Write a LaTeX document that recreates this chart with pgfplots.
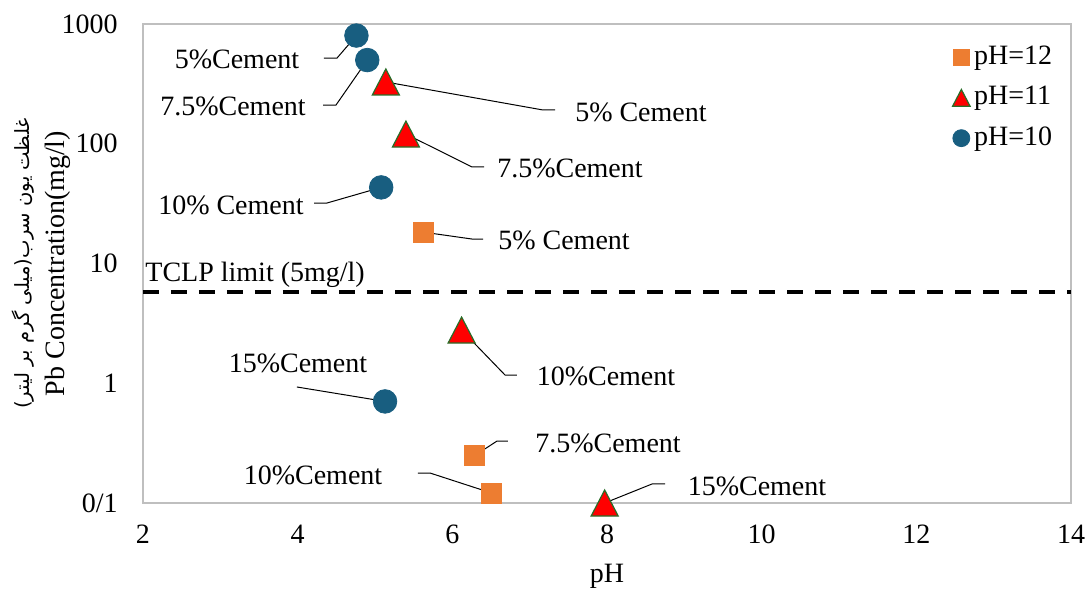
\documentclass[border=0pt]{standalone}
\usepackage{pgfplots}
\pgfplotsset{compat=1.18}
\usepackage{fontspec}
\setmainfont{Liberation Serif}
\newfontfamily\arabicfont[Script=Arabic]{DejaVu Sans}
\TeXXeTstate=1
\definecolor{cblue}{RGB}{24,94,128}
\definecolor{corange}{RGB}{237,125,49}
\definecolor{cgreen}{RGB}{40,110,40}
\pgfdeclareplotmark{mytri}{%
  \pgfpathmoveto{\pgfqpoint{0pt}{\pgfplotmarksize}}%
  \pgfpathlineto{\pgfqpoint{-1.04\pgfplotmarksize}{-\pgfplotmarksize}}%
  \pgfpathlineto{\pgfqpoint{1.04\pgfplotmarksize}{-\pgfplotmarksize}}%
  \pgfpathclose
  \pgfusepathqfillstroke}
\begin{document}
\fontsize{14}{17}\selectfont
\begin{tikzpicture}
\useasboundingbox (-71.5pt,-43.5pt) rectangle (472pt,251.5pt);
\begin{axis}[
  at={(0pt,0pt)}, anchor=south west,
  scale only axis, width=464pt, height=239.5pt,
  xmin=2, xmax=14, ymin=0.1, ymax=1000, ymode=log, log basis y=10,
  xtick={2,4,6,8,10,12,14},
  ytick={0.1,1,10,100,1000}, yticklabels={0/1,1,10,100,1000},
  yminorticks=false,
  major tick length=0pt, tick style={draw=none},
  axis line style={draw=gray!50, line width=0.75pt},
  /pgf/number format/assume math mode=true,
  xticklabel style={yshift=-6.3pt},
  yticklabel style={xshift=-7.8pt},
  clip=false,
  xlabel={pH},
  xlabel style={at={(rel axis cs:0.5,-0.165)}, anchor=base},
  ylabel={{\arabicfont\fontsize{9.8}{12}\selectfont\beginR غلظت یون سرب(میلی گرم بر لیتر)\endR}\\[0.5pt]Pb Concentration(mg/l)},
  ylabel style={at={(rel axis cs:-0.078,0.5)}, anchor=south, align=center, inner sep=0pt},
  legend style={draw=none, fill=none, at={(rel axis cs:0.872,0.963)}, anchor=north west,
    inner sep=0pt, row sep=4.8pt, nodes={inner sep=2pt}},
  legend cell align=left,
  legend image code/.code={\draw[#1] plot coordinates {(0pt,0pt)};},
]
% pH=12
\addplot[only marks, mark=square*, mark size=5pt, color=corange,
  legend image post style={mark size=4pt}] coordinates {
  (5.62,18.3) (6.29,0.249) (6.51,0.121)};
\addlegendentry{pH=12}
% pH=11
\addplot[only marks, mark=mytri, mark size=6.5pt, mark options={fill=red, draw=cgreen, line width=0.6pt},
  legend image post style={mark size=4.2pt}] coordinates {
  (5.14,328) (5.40,120.5) (6.12,2.78) (7.97,0.1)};
\addlegendentry{pH=11}
% pH=10
\addplot[only marks, mark=*, mark size=5.9pt, color=cblue,
  legend image post style={mark size=4.25pt}] coordinates {
  (4.76,801) (4.90,500) (5.08,43.2) (5.13,0.705)};
\addlegendentry{pH=10}
% TCLP limit
\addplot[forget plot, black, line width=2pt, dash pattern=on 8pt off 6pt] coordinates {(2,5.8) (14,5.8)};
\node[anchor=base west, inner sep=0pt] at (rel axis cs:0.0022,0.4614) {TCLP limit (5mg/l)};
% leader lines
\begin{scope}[line width=0.5pt, black]
\draw (rel axis cs:0.1950,0.9290) -- (rel axis cs:0.2091,0.9290) -- (axis cs:4.76,801);
\draw (rel axis cs:0.1940,0.8309) -- (rel axis cs:0.2080,0.8309) -- (axis cs:4.90,500);
\draw (axis cs:5.14,328) -- (rel axis cs:0.4310,0.8205) -- (rel axis cs:0.4440,0.8205);
\draw (axis cs:5.40,120.5) -- (rel axis cs:0.3545,0.7015) -- (rel axis cs:0.3675,0.7015);
\draw (rel axis cs:0.1843,0.6263) -- (rel axis cs:0.1983,0.6263) -- (axis cs:5.08,43.2);
\draw (axis cs:5.62,18.3) -- (rel axis cs:0.3545,0.5511) -- (rel axis cs:0.3664,0.5511);
\draw (axis cs:6.12,2.78) -- (rel axis cs:0.3901,0.2672) -- (rel axis cs:0.4030,0.2672);
\draw (rel axis cs:0.1659,0.2422) -- (axis cs:5.13,0.705);
\draw (axis cs:6.29,0.249) -- (rel axis cs:0.3815,0.1294) -- (rel axis cs:0.3933,0.1294);
\draw (rel axis cs:0.2963,0.0626) -- (rel axis cs:0.3093,0.0626) -- (axis cs:6.51,0.121);
\draw (axis cs:7.97,0.1) -- (rel axis cs:0.5485,0.0397) -- (rel axis cs:0.5625,0.0397);
\end{scope}
% labels
\begin{scope}[every node/.style={inner sep=0pt}]
\node at (rel axis cs:0.1013,0.9269) {5\%Cement};
\node at (rel axis cs:0.0970,0.8288) {7.5\%Cement};
\node at (rel axis cs:0.5366,0.8163) {5\% Cement};
\node at (rel axis cs:0.4601,0.6994) {7.5\%Cement};
\node at (rel axis cs:0.0948,0.6221) {10\% Cement};
\node at (rel axis cs:0.4537,0.5491) {5\% Cement};
\node at (rel axis cs:0.4989,0.2651) {10\%Cement};
\node at (rel axis cs:0.1670,0.2923) {15\%Cement};
\node at (rel axis cs:0.5011,0.1253) {7.5\%Cement};
\node at (rel axis cs:0.1832,0.0585) {10\%Cement};
\node at (rel axis cs:0.6616,0.0355) {15\%Cement};
\end{scope}
\end{axis}
\end{tikzpicture}
\end{document}
